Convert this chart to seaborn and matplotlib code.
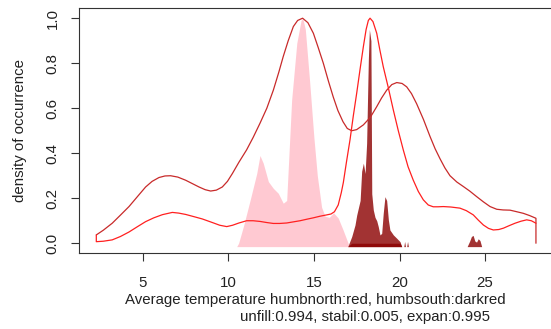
import numpy as np
import pandas as pd
import matplotlib
matplotlib.use("Agg")
import matplotlib.pyplot as plt
import seaborn as sns

# ---- data ----
north_curve_x = [2.29, 2.7, 3.22, 3.7, 4.2, 4.7, 5.17, 5.55, 5.95, 6.3, 6.63, 7.05, 7.51, 7.9, 8.29,
                 8.65, 8.97, 9.3, 9.65, 9.95, 10.24, 10.62, 11.07, 11.45, 11.85, 12.25, 12.63,
                 12.95, 13.21, 13.5, 13.8, 14.05, 14.34, 14.65, 14.97, 15.25, 15.55, 15.85, 16.13,
                 16.4, 16.7, 16.95, 17.21, 17.5, 17.89, 18.3, 18.67, 18.95, 19.25, 19.55, 19.84,
                 20.15, 20.42, 20.7, 21.0, 21.4, 21.78, 22.08, 22.37, 22.65, 22.95, 23.35, 23.73,
                 24.1, 24.51, 24.9, 25.29, 25.68, 26.05, 26.46, 26.85, 27.23, 27.6, 27.97, 27.97]
north_curve_y = [0.037, 0.058, 0.089, 0.125, 0.163, 0.208, 0.25, 0.275, 0.292, 0.299, 0.30, 0.294,
                 0.28, 0.265, 0.25, 0.238, 0.232, 0.236, 0.25, 0.275, 0.31, 0.36, 0.415, 0.47,
                 0.533, 0.60, 0.68, 0.76, 0.83, 0.90, 0.963, 0.99, 1.0, 0.98, 0.933, 0.87, 0.80,
                 0.72, 0.65, 0.59, 0.54, 0.51, 0.50, 0.505, 0.526, 0.56, 0.607, 0.645, 0.68,
                 0.705, 0.714, 0.71, 0.695, 0.665, 0.62, 0.55, 0.475, 0.42, 0.375, 0.335, 0.30,
                 0.272, 0.252, 0.232, 0.207, 0.184, 0.163, 0.151, 0.148, 0.147, 0.14, 0.133,
                 0.123, 0.111, 0.0]

south_curve_x = [2.29, 2.29, 2.7, 3.22, 3.7, 4.2, 4.7, 5.17, 5.65, 6.15, 6.73, 7.1, 7.51, 8.0, 8.48,
                 9.07, 9.5, 9.91, 10.25, 10.62, 11.07, 11.45, 11.85, 12.25, 12.63, 13.0, 13.41,
                 13.8, 14.19, 14.6, 14.97, 15.35, 15.75, 16.0, 16.2, 16.42, 16.6, 16.72, 16.9,
                 17.11, 17.3, 17.5, 17.7, 17.89, 18.05, 18.18, 18.28, 18.45, 18.67, 18.85, 19.05,
                 19.35, 19.64, 19.93, 20.22, 20.5, 20.8, 21.1, 21.39, 21.68, 21.97, 22.25, 22.56,
                 23.0, 23.53, 23.9, 24.31, 24.6, 24.9, 25.2, 25.48, 25.8, 26.07, 26.4, 26.75,
                 27.1, 27.43, 27.7, 27.97]
south_curve_y = [0.037, 0.007, 0.009, 0.015, 0.03, 0.05, 0.074, 0.096, 0.113, 0.127, 0.137, 0.134,
                 0.128, 0.118, 0.108, 0.092, 0.08, 0.074, 0.08, 0.09, 0.10, 0.10, 0.097, 0.092,
                 0.088, 0.088, 0.09, 0.095, 0.10, 0.107, 0.113, 0.12, 0.126, 0.13, 0.14, 0.17,
                 0.225, 0.27, 0.36, 0.46, 0.565, 0.667, 0.775, 0.874, 0.95, 0.99, 1.0, 0.985,
                 0.933, 0.86, 0.785, 0.69, 0.592, 0.50, 0.415, 0.34, 0.281, 0.23, 0.193, 0.17,
                 0.162, 0.162, 0.163, 0.161, 0.156, 0.145, 0.126, 0.103, 0.081, 0.066, 0.059,
                 0.061, 0.067, 0.078, 0.089, 0.098, 0.104, 0.10, 0.089]

north_fill_x = [10.49, 10.6, 10.9, 11.27, 11.66, 11.85, 12.04, 12.34, 12.63, 12.92, 13.21, 13.41,
                13.7, 14.0, 14.25, 14.35, 14.5, 14.75, 15.0, 15.2, 15.45, 15.65, 15.9, 16.15,
                16.42, 16.7, 17.0, 17.05]
north_fill_y = [-0.015, 0.0, 0.08, 0.19, 0.31, 0.39, 0.356, 0.274, 0.244, 0.222, 0.178, 0.19,
                0.637, 0.889, 0.99, 1.0, 0.95, 0.72, 0.47, 0.3, 0.16, 0.12, 0.115, 0.135,
                0.112, 0.06, 0.0, -0.015]

south_fill_x = [16.98, 17.21, 17.4, 17.5, 17.7, 17.79, 17.89, 17.99, 18.08, 18.18, 18.24, 18.33,
                18.36, 18.38, 18.47, 18.57, 18.67, 18.76, 18.86, 18.96, 19.05, 19.15, 19.25,
                19.35, 19.44, 19.64, 19.84, 20.03, 20.13]
south_fill_y = [-0.015, 0.03, 0.081, 0.125, 0.19, 0.32, 0.356, 0.31, 0.444, 0.815, 0.95, 0.9,
                0.5, 0.22, 0.148, 0.115, 0.1, 0.074, 0.037, 0.044, 0.133, 0.207, 0.19,
                0.104, 0.059, 0.037, 0.022, 0.007, -0.015]

south_bits_x = [20.25, 20.3, 20.35, 20.42, 20.47, 20.52, 23.95, 24.1, 24.2, 24.3, 24.4, 24.5,
                24.6, 24.7, 24.8]
south_bits_y = [-0.015, 0.008, -0.015, -0.015, 0.008, -0.015, -0.015, 0.01, 0.03, 0.035, 0.01,
                0.005, 0.02, 0.012, -0.015]

x_ticks = [5, 10, 15, 20, 25]
y_ticks = [0.0, 0.2, 0.4, 0.6, 0.8, 1.0]
x_label = "Average temperature humbnorth:red, humbsouth:darkred"
sub_label = "unfill:0.994, stabil:0.005, expan:0.995"
y_label = "density of occurrence"

# ---- style ----
sns.set_theme(style="white")
plt.rcParams["font.family"] = ["Liberation Sans", "DejaVu Sans"]
plt.rcParams["axes.edgecolor"] = "#333333"
plt.rcParams["axes.linewidth"] = 0.8

W, H = 551, 329
fig = plt.figure(figsize=(W / 100, H / 100), dpi=100)
left_px, right_px, top_px, bottom_px = 79, 551, 8.3, 252.7
ax = fig.add_axes([left_px / W, 1 - bottom_px / H, (right_px - left_px) / W, (bottom_px - top_px) / H])

fs = 10.8
dark = "#8B0000"

# fills
ax.fill_between(north_fill_x, -0.015, north_fill_y, color="pink", alpha=0.85, lw=0)
ax.fill_between(south_fill_x, -0.015, south_fill_y, color=dark, alpha=0.8, lw=0)
ax.fill_between(south_fill_x, -0.015, np.minimum(south_fill_y, 0.0), color=dark, alpha=0.8, lw=0)
ax.fill_between(south_bits_x, -0.015, south_bits_y, color=dark, alpha=0.8, lw=0)

# density curves
north_df = pd.DataFrame({"x": north_curve_x, "y": north_curve_y})
south_df = pd.DataFrame({"x": south_curve_x, "y": south_curve_y})
sns.lineplot(data=north_df, x="x", y="y", sort=False, estimator=None, color="#c82a2a", lw=0.9, ax=ax)
sns.lineplot(data=south_df, x="x", y="y", sort=False, estimator=None, color="#ff2020", lw=0.9, ax=ax)

ax.set_xlim((left_px - 57.1) / 17.12, (right_px - 57.1) / 17.12)
ax.set_ylim(-0.042, 1.044)
ax.set_xticks(x_ticks)
ax.set_yticks(y_ticks)
ax.set_xticklabels([str(t) for t in x_ticks])
ax.set_yticklabels([f"{t:.1f}" for t in y_ticks])
ax.spines["right"].set_visible(False)
ax.tick_params(axis="both", which="both", direction="out", length=6, width=0.8,
               color="#333333", labelsize=fs, labelcolor="#222222", bottom=True, left=True)
ax.tick_params(axis="x", pad=10.5)
ax.tick_params(axis="y", pad=8, labelrotation=90)
for lab in ax.get_yticklabels():
    lab.set_va("center")

ax.set_xlabel(x_label, fontsize=fs, color="#222222", labelpad=2.5)
ax.set_ylabel(y_label, fontsize=fs, color="#222222", labelpad=13)
fig.text(365 / W, 1 - 317 / H, sub_label, fontsize=fs, color="#222222", ha="center", va="center")

fig.savefig("out.png", dpi=100)
